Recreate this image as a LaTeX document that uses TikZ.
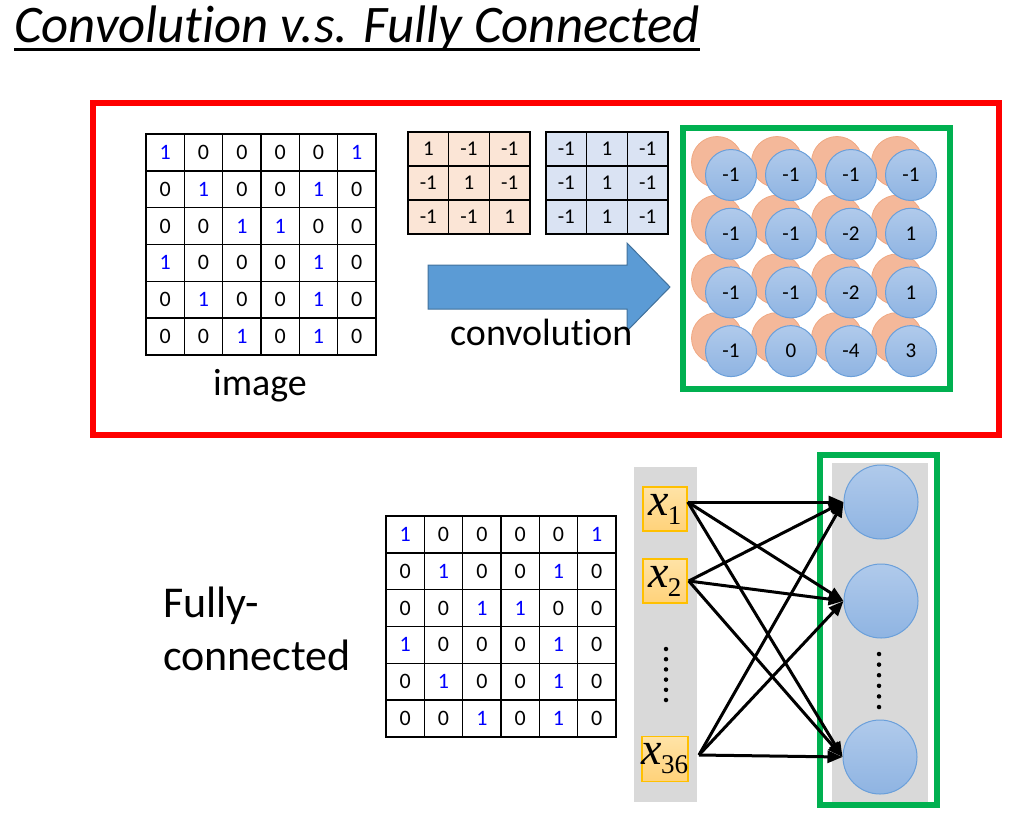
\documentclass[tikz,border=0pt]{standalone}
\usepackage{fontspec}
\setmainfont{Carlito}[Ligatures=NoCommon]
\newfontfamily\timesf{Liberation Serif}
\usetikzlibrary{arrows.meta,calc}
\definecolor{frred}{HTML}{FF0000}
\definecolor{frgreen}{HTML}{00B050}
\definecolor{digblue}{HTML}{0000FF}
\definecolor{peach}{HTML}{FBE5D6}
\definecolor{paleblue}{HTML}{DAE3F3}
\definecolor{arrowblue}{HTML}{5B9BD5}
\definecolor{arrowedge}{HTML}{41719C}
\definecolor{orng}{HTML}{F4B89A}
\definecolor{orngedge}{HTML}{F0A882}
\definecolor{circtop}{HTML}{B0CAEB}
\definecolor{circbot}{HTML}{8FB4E2}
\definecolor{circedge}{HTML}{6A9FDA}
\definecolor{colgray}{HTML}{D9D9D9}
\definecolor{xtop}{HTML}{FFE3A6}
\definecolor{xbot}{HTML}{FFD27A}
\definecolor{xedge}{HTML}{FFC000}
\tikzset{
  gridcell/.style={draw=black, line width=1.5, minimum width=38.33pt, minimum height=36.83pt, inner sep=0pt, font=\fontsize{22}{24}\selectfont},
  filtcell/.style={draw=black, line width=1.5, minimum width=40.67pt, minimum height=34pt, inner sep=0pt, font=\fontsize{21}{24}\selectfont},
  frame/.style={line width=6},
  bluecirc/.style={circle, draw=circedge, line width=1, top color=circtop, bottom color=circbot, minimum size=51pt, inner sep=0pt, font=\fontsize{21}{24}\selectfont},
  orngcirc/.style={circle, draw=orngedge, line width=0.8, fill=orng, minimum size=51pt, inner sep=0pt},
  bigcirc/.style={circle, draw=circedge, line width=1, top color=circtop, bottom color=circbot, minimum size=74pt, inner sep=0pt},
  xbox/.style={draw=xedge, line width=1.5, top color=xtop, bottom color=xbot, minimum width=44pt, minimum height=44pt, inner sep=0pt},
  label38/.style={inner sep=0pt, font=\fontsize{38}{40}\selectfont},
  label44/.style={inner sep=0pt, font=\fontsize{44}{48}\selectfont, anchor=base west},
  fcarrow/.style={line width=3, -{Triangle[length=15pt,width=12pt]}},
  dotmark/.style={circle, fill=black, inner sep=0pt, minimum size=4.5pt},
}
\newcommand{\imggrid}[3]{%
  \foreach \rowvals [count=\r] in {{1,0,0,0,0,1},{0,1,0,0,1,0},{0,0,1,1,0,0},{1,0,0,0,1,0},{0,1,0,0,1,0},{0,0,1,0,1,0}}{%
    \foreach \v [count=\c] in \rowvals {%
      \node[gridcell] (#3-\r-\c) at ({#1+38.33*(\c-0.5)},{#2+36.83*(\r-0.5)}) {\ifnum\v=1 \color{digblue}\fi\v};
    }%
  }%
}
\newcommand{\filtgrid}[4]{%
  \foreach \rowvals [count=\r] in {#4}{%
    \foreach \v [count=\c] in \rowvals {%
      \node[filtcell, fill=#3] at ({#1+40.67*(\c-0.5)},{#2+34*(\r-0.5)}) {\v};
    }%
  }%
}
\newcommand{\xlab}[1]{{\timesf\itshape\fontsize{46}{46}\selectfont x}\kern-1pt\raisebox{-9pt}{\timesf\fontsize{27}{27}\selectfont #1}}
\begin{document}
\begin{tikzpicture}[x=1pt,y=-1pt]
\useasboundingbox (0,0) rectangle (1027,833);

% title
\node[anchor=base west, inner sep=0pt, font=\fontsize{52.8}{56}\selectfont\itshape] (title) at (14,42) {Convolution v.s. Fully Connected};
\draw[line width=3] ($(title.base west)+(0,7)$) -- ($(title.base east)+(0,7)$);

% red frame
\draw[frame, draw=frred] (93,103) rectangle (999,435);

% top image grid
\imggrid{146}{134}{tg}
\node[label38, anchor=base] (imagelbl) at (260,395) {image};

% filters
\filtgrid{408}{132}{peach}{{1,-1,-1},{-1,1,-1},{-1,-1,1}}
\filtgrid{546}{132}{paleblue}{{-1,1,-1},{-1,1,-1},{-1,1,-1}}

% big arrow
\draw[fill=arrowblue, draw=arrowedge, line width=1] (428,265) -- (627,265) -- (627,243) -- (670,287) -- (627,331) -- (627,309) -- (428,309) -- cycle;
\node[label38, anchor=base west] (convlbl) at (450,345) {convolution};

% feature maps
\foreach \r in {1,...,4}{
  \foreach \c in {1,...,4}{
    \node[orngcirc] (o-\r-\c) at ({717+60*(\c-1)},{162+58.7*(\r-1)}) {};
  }
}
\foreach \rowvals [count=\r] in {{-1,-1,-1,-1},{-1,-1,-2,1},{-1,-1,-2,1},{-1,0,-4,3}}{
  \foreach \v [count=\c] in \rowvals {
    \node[bluecirc] (b-\r-\c) at ({731+60*(\c-1)},{175+58.7*(\r-1)}) {\v};
  }
}
\draw[frame, draw=frgreen] (683,128) rectangle (950,389);

% bottom: fully connected
\node[label44] (fc1) at (163,617) {Fully-};
\node[label44] (fc2) at (163,670) {connected};
\imggrid{386}{516}{bg}

\fill[colgray] (634,467) rectangle (697,802);
\fill[colgray] (832,463) rectangle (928,802);
\draw[frame, draw=frgreen] (820,455) rectangle (937,805);

\node[xbox] (x1) at (665,509) {\xlab{1}};
\node[xbox] (x2) at (665,581) {\xlab{2}};
\node[xbox, minimum height=45pt] (x36) at (665,759) {\xlab{36}};

\foreach \i in {0,...,5}{
  \node[dotmark] (ld\i) at (666,{649+10.2*\i}) {};
  \node[dotmark] (rd\i) at (879,{654+10.6*\i}) {};
}

\node[bigcirc] (c1) at (881,502) {};
\node[bigcirc] (c2) at (881,601) {};
\node[bigcirc] (c3) at (880,757) {};

\coordinate (s1) at ($(x1.east)+(0,-7)$);
\coordinate (s2) at ($(x2.east)+(1,0)$);
\coordinate (s36) at ($(x36.east)+(10,-4)$);
\foreach \s in {s1,s2,s36}{
  \foreach \t in {c1,c2,c3}{
    \draw[fcarrow] (\s) -- (\t.west);
  }
}
\end{tikzpicture}
\end{document}
